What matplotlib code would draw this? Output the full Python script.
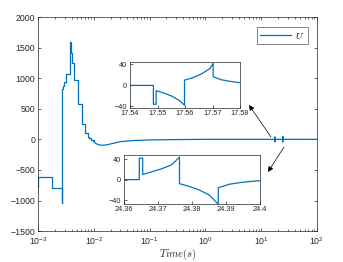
import matplotlib.pyplot as plt
import numpy as np

plt.rcParams['font.family'] = ['Liberation Sans', 'DejaVu Sans']
plt.rcParams['mathtext.fontset'] = 'cm'

blue = '#0072BD'
grey = '#262626'

# transient part, piecewise constant (time in s, control U)
t_step = [1e-3, 1.01e-3, 1.8e-3, 2.73e-3, 2.735e-3, 2.85e-3, 2.95e-3, 3.2e-3,
          3.75e-3, 3.85e-3, 3.95e-3, 4.1e-3, 4.4e-3, 5.1e-3, 6.1e-3, 7.0e-3,
          7.7e-3, 8.3e-3, 9.0e-3, 1.0e-2]
u_step = [-780, -610, -790, -1047, 820, 870, 945, 1070,
          1590, 1465, 1410, 1245, 975, 575, 250, 100,
          45, 20, -10, -40]

# smooth settling part
t_main = [1.0e-2, 1.1e-2, 1.2e-2, 1.38e-2, 1.7e-2, 2.0e-2, 3.0e-2, 5.0e-2, 0.1,
          0.3, 1.0, 17.54]
u_main = [-40, -70, -88, -97, -90, -75, -37, -20, -10,
          -4, 0, 0]

# zoom 1
t_z1 = [17.54, 17.5485, 17.5485, 17.5495, 17.5495, 17.552, 17.555, 17.558, 17.5598,
        17.5598, 17.563, 17.566, 17.569, 17.5702, 17.5702, 17.5705, 17.573, 17.576, 17.58]
u_z1 = [0, 0, -36, -36, -10, -14, -20, -29, -38,
        10, 15, 22, 32, 42, 17, 16, 11, 8, 5]

# zoom 2
t_z2 = [24.36, 24.3645, 24.3645, 24.3655, 24.3655, 24.368, 24.371, 24.374, 24.3763,
        24.3763, 24.379, 24.382, 24.385, 24.3875, 24.3877, 24.3877, 24.391, 24.395, 24.40]
u_z2 = [0, 0, 42, 42, 10, 15, 21, 29, 44,
        -8, -13, -20, -30, -47, -47, -16, -9, -5, -2]

t_tail = [17.58, 24.36]
u_tail = [0, 0]
t_end = [24.40, 100]
u_end = [0, 0]


def style(ax, fs):
    ax.tick_params(direction='in', labelsize=fs, colors=grey, width=0.5, length=2.5, pad=2)
    ax.tick_params(which='minor', direction='in', width=0.4, length=1.5)
    for s in ax.spines.values():
        s.set_color(grey)
        s.set_linewidth(0.5)


fig = plt.figure(figsize=(3.43, 2.62), dpi=100)
ax = fig.add_axes([0.111, 0.118, 0.813, 0.817])
ax.plot(t_step, u_step, color=blue, lw=0.9, drawstyle='steps-post', label='$U$')
tt = t_main + t_z1 + t_tail + t_z2 + t_end
uu = u_main + u_z1 + u_tail + u_z2 + u_end
ax.plot(tt, uu, color=blue, lw=0.9)
ax.set_xscale('log')
ax.set_xlim(1e-3, 1e2)
ax.set_ylim(-1500, 2000)
ax.set_yticks(np.arange(-1500, 2001, 500))
ax.tick_params(top=True, right=True, which='both')
style(ax, 6.3)
ax.tick_params(axis='x', pad=3)
ax.set_xlabel('$Time(s)$', fontsize=7.5, color=grey, labelpad=0)
leg = ax.legend(loc='upper right', fontsize=7, frameon=True, fancybox=False,
                handlelength=3.2, handletextpad=0.4, borderpad=0.35,
                bbox_to_anchor=(0.985, 0.975))
leg.get_frame().set_edgecolor(grey)
leg.get_frame().set_linewidth(0.5)

ax1 = fig.add_axes([0.379, 0.588, 0.321, 0.176])
ax1.plot(t_z1, u_z1, color=blue, lw=0.9)
ax1.set_xlim(17.54, 17.58)
ax1.set_ylim(-43, 45)
ax1.set_xticks([17.54, 17.55, 17.56, 17.57, 17.58])
ax1.set_xticklabels(['17.54', '17.55', '17.56', '17.57', '17.58'])
ax1.set_yticks([-40, 0, 40])
style(ax1, 5.3)
ax1.tick_params(axis='x', pad=1.5)

ax2 = fig.add_axes([0.3615, 0.221, 0.397, 0.187])
ax2.plot(t_z2, u_z2, color=blue, lw=0.9)
ax2.set_xlim(24.36, 24.40)
ax2.set_ylim(-48, 48)
ax2.set_xticks([24.36, 24.37, 24.38, 24.39, 24.40])
ax2.set_xticklabels(['24.36', '24.37', '24.38', '24.39', '24.4'])
ax2.set_yticks([-40, 0, 40])
style(ax2, 5.3)
ax2.tick_params(axis='x', pad=1.5)

arrow = dict(arrowstyle='-|>', color='black', lw=0.5, mutation_scale=8,
             shrinkA=0, shrinkB=0)
ax.annotate('', xy=(249 / 343, 1 - 105 / 262), xytext=(271 / 343, 1 - 137 / 262),
            xycoords='figure fraction', textcoords='figure fraction', arrowprops=arrow)
ax.annotate('', xy=(268 / 343, 1 - 172 / 262), xytext=(284 / 343, 1 - 147 / 262),
            xycoords='figure fraction', textcoords='figure fraction', arrowprops=arrow)

plt.savefig('out.png', dpi=100)
